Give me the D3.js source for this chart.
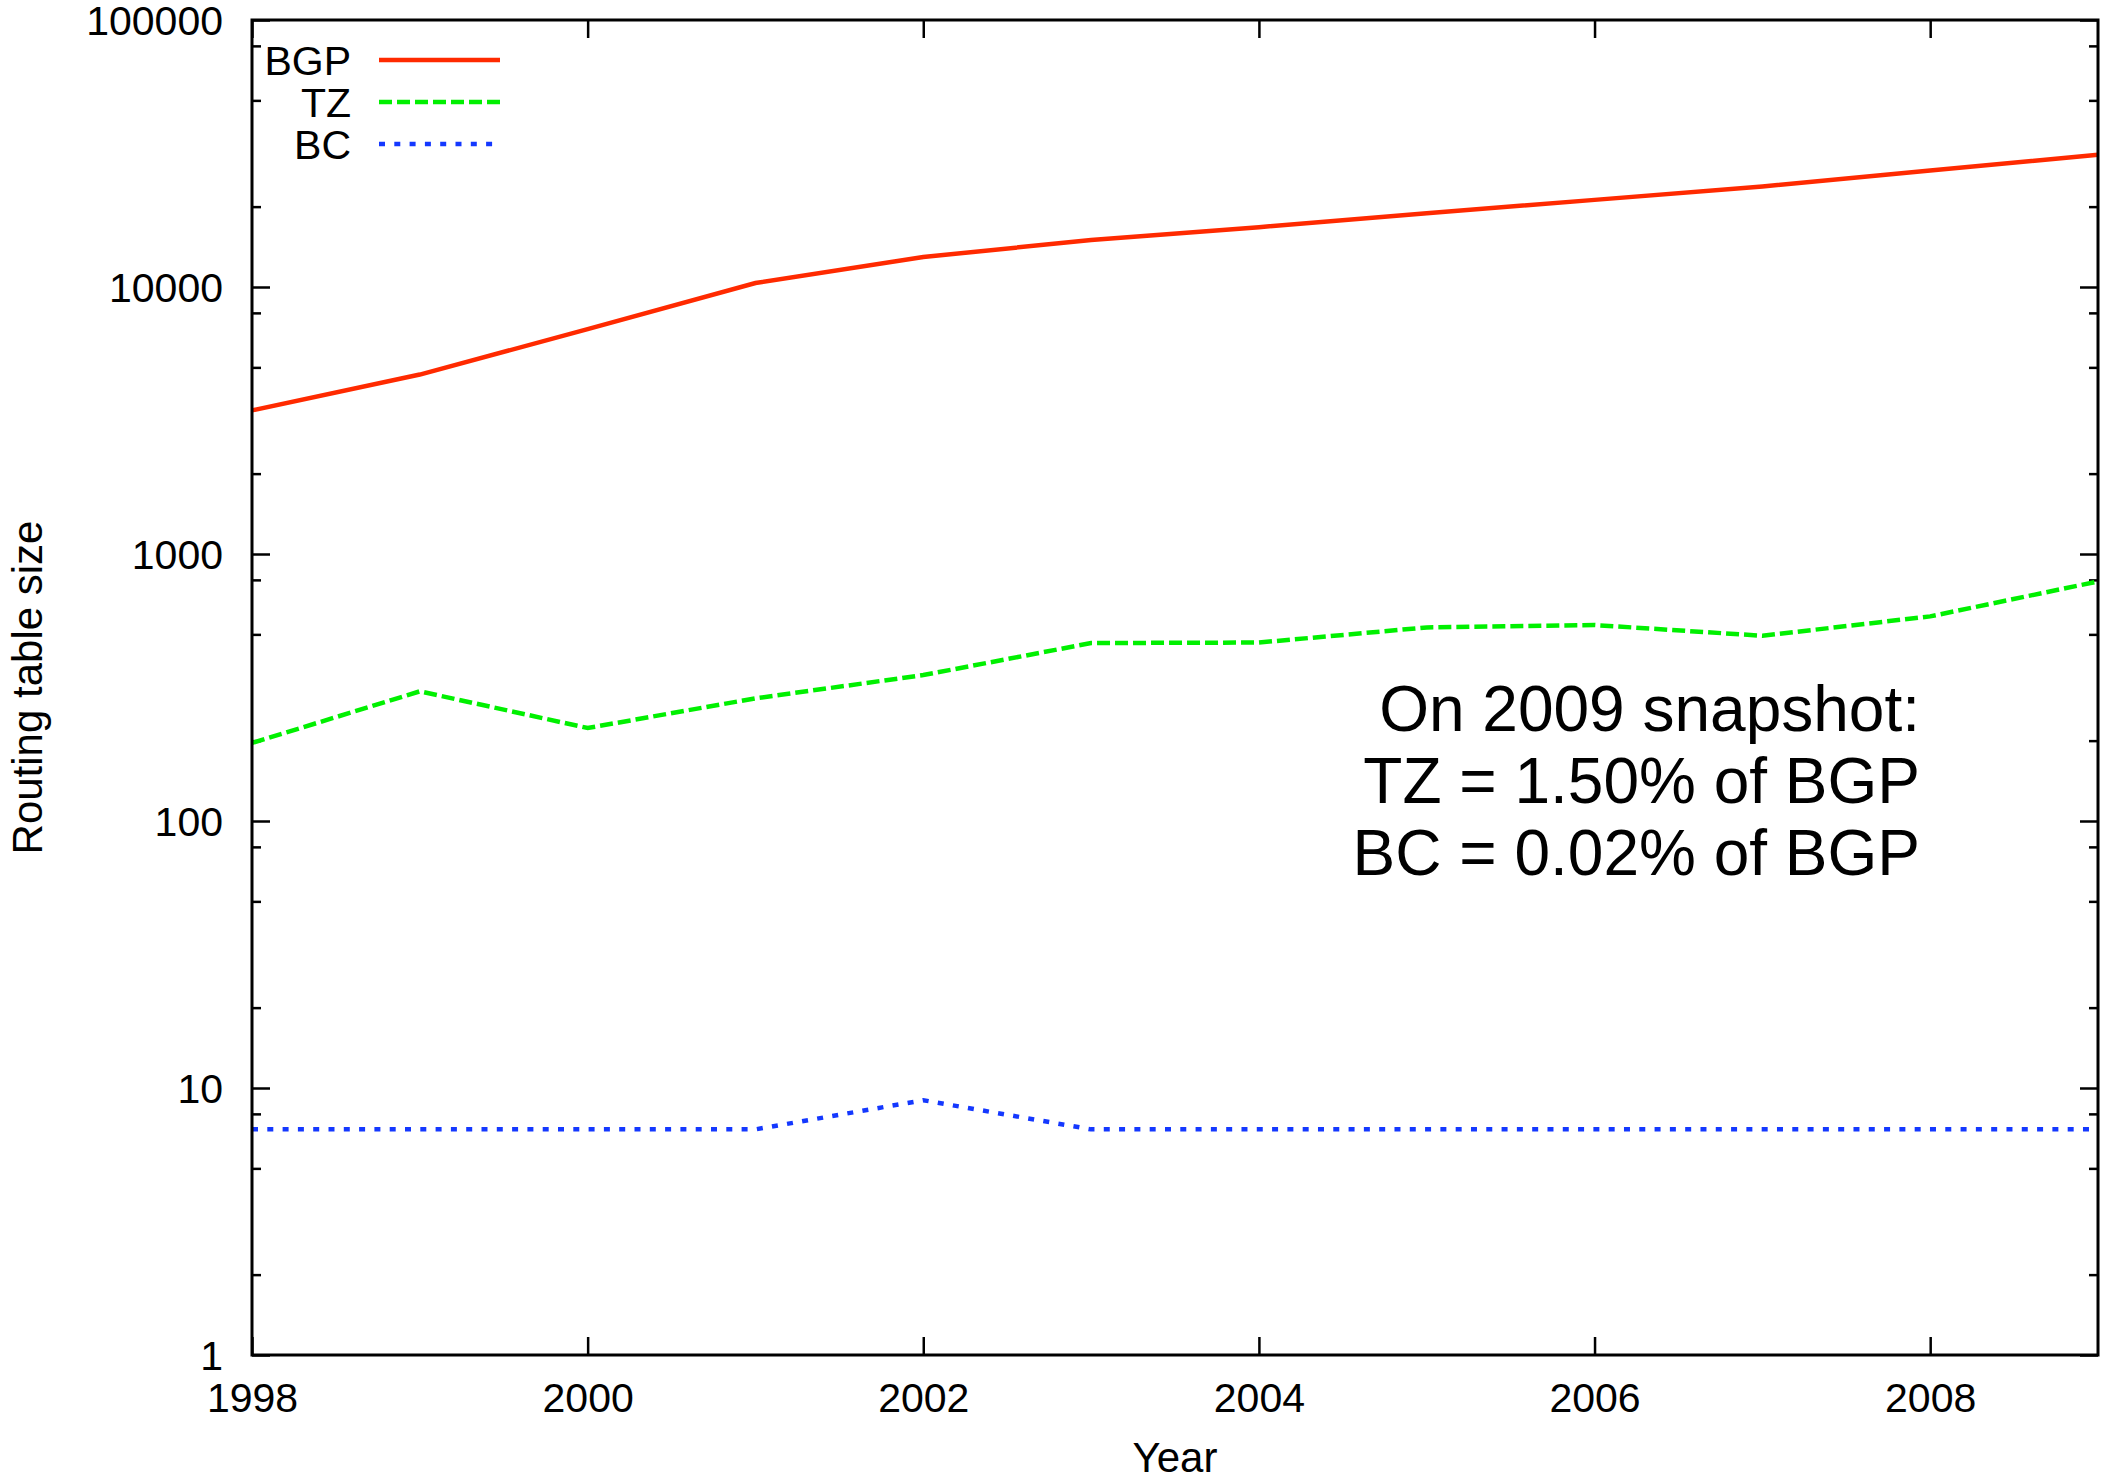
<!DOCTYPE html>
<html>
<head>
<meta charset="utf-8">
<script src="https://cdn.jsdelivr.net/npm/d3@7"></script>
<style>
  html, body { margin: 0; padding: 0; background: #fff; }
  svg { display: block; }
  text { font-family: "Liberation Sans", Arial, Helvetica, sans-serif; fill: #000; }
</style>
</head>
<body>
<svg id="chart" width="2102" height="1480"></svg>
<script>
// Routing table size per yearly snapshot, 1998–2009
const years = [1998, 1999, 2000, 2001, 2002, 2003, 2004, 2005, 2006, 2007, 2008, 2009];
const bgp = [3450, 4700, 6950, 10350, 12950, 15000, 16750, 18900, 21200, 23800, 27300, 31300];
const tz  = [196, 306, 223, 288, 352, 464, 466, 531, 542, 494, 584, 789];
const bc  = [7, 7, 7, 7, 9, 7, 7, 7, 7, 7, 7, 7];

const seriesNames = ["BGP", "TZ", "BC"];
const xTickValues = [1998, 2000, 2002, 2004, 2006, 2008];
const yMajorTicks = [1, 10, 100, 1000, 10000, 100000];
const yMinorTicks = [2, 5, 8, 20, 50, 80, 200, 500, 800, 2000, 5000, 8000, 20000, 50000, 80000];
const noteLines = ["On 2009 snapshot:", "TZ = 1.50% of BGP", "BC = 0.02% of BGP"];

const svg = d3.select("#chart");
const plotLeft = 252, plotRight = 2098, plotTop = 20, plotBottom = 1355;

const x = d3.scaleLinear().domain([1998, 2009]).range([plotLeft, plotRight]);
const y = d3.scaleLog().domain([1, 100000]).range([plotBottom, plotTop]);

const styles = [
  { color: "#ff2a00", dash: null },
  { color: "#00f000", dash: "13,5" },
  { color: "#1438ff", dash: "6,9.3" }
];
const data = [bgp, tz, bc];

// Axes with inward ticks on all four sides
function styleAxis(g) {
  g.select(".domain").remove();
  g.selectAll(".tick line").attr("stroke", "#000").attr("stroke-width", 2.5);
  g.selectAll(".tick text").attr("font-size", 41).attr("fill", "#000")
    .attr("font-family", "'Liberation Sans', Arial, Helvetica, sans-serif");
}

svg.append("g").attr("transform", `translate(${plotLeft},0)`)
  .call(d3.axisLeft(y).tickValues(yMajorTicks).tickFormat(d3.format("d")).tickSize(-18).tickPadding(29))
  .call(styleAxis)
  .call(g => g.selectAll(".tick text").attr("dy", "0.35em"));
svg.append("g").attr("transform", `translate(${plotLeft},0)`)
  .call(d3.axisLeft(y).tickValues(yMinorTicks).tickFormat("").tickSize(-9))
  .call(styleAxis);
svg.append("g").attr("transform", `translate(${plotRight},0)`)
  .call(d3.axisRight(y).tickValues(yMajorTicks).tickFormat("").tickSize(-18))
  .call(styleAxis);
svg.append("g").attr("transform", `translate(${plotRight},0)`)
  .call(d3.axisRight(y).tickValues(yMinorTicks).tickFormat("").tickSize(-9))
  .call(styleAxis);
svg.append("g").attr("transform", `translate(0,${plotBottom})`)
  .call(d3.axisBottom(x).tickValues(xTickValues).tickFormat(d3.format("d")).tickSize(-18).tickPadding(28))
  .call(styleAxis);
svg.append("g").attr("transform", `translate(0,${plotTop})`)
  .call(d3.axisTop(x).tickValues(xTickValues).tickFormat("").tickSize(-18))
  .call(styleAxis);

// Series lines
const line = d3.line().x((d, i) => x(years[i])).y(d => y(d));
data.forEach((vals, k) => {
  svg.append("path")
    .datum(vals)
    .attr("d", line)
    .attr("fill", "none")
    .attr("stroke", styles[k].color)
    .attr("stroke-width", 4.5)
    .attr("stroke-linejoin", "miter")
    .attr("stroke-dasharray", styles[k].dash);
});

// Frame
svg.append("rect")
  .attr("x", plotLeft).attr("y", plotTop)
  .attr("width", plotRight - plotLeft).attr("height", plotBottom - plotTop)
  .attr("fill", "none").attr("stroke", "#000").attr("stroke-width", 3);

// Legend
const legendY = [60, 102, 144];
seriesNames.forEach((name, k) => {
  svg.append("text")
    .attr("x", 351).attr("y", legendY[k] + 14.5)
    .attr("text-anchor", "end").attr("font-size", 41)
    .text(name);
  svg.append("line")
    .attr("x1", 379).attr("x2", 500)
    .attr("y1", legendY[k]).attr("y2", legendY[k])
    .attr("stroke", styles[k].color).attr("stroke-width", 4.5)
    .attr("stroke-dasharray", styles[k].dash);
});

// Annotation
noteLines.forEach((t, i) => {
  svg.append("text")
    .attr("x", 1920).attr("y", 731 + i * 72)
    .attr("text-anchor", "end").attr("font-size", 64)
    .text(t);
});

// Axis titles
svg.append("text")
  .attr("x", (plotLeft + plotRight) / 2).attr("y", 1472)
  .attr("text-anchor", "middle").attr("font-size", 42)
  .text("Year");
svg.append("text")
  .attr("transform", `translate(42,${(plotTop + plotBottom) / 2}) rotate(-90)`)
  .attr("text-anchor", "middle").attr("font-size", 42)
  .text("Routing table size");
</script>
</body>
</html>
